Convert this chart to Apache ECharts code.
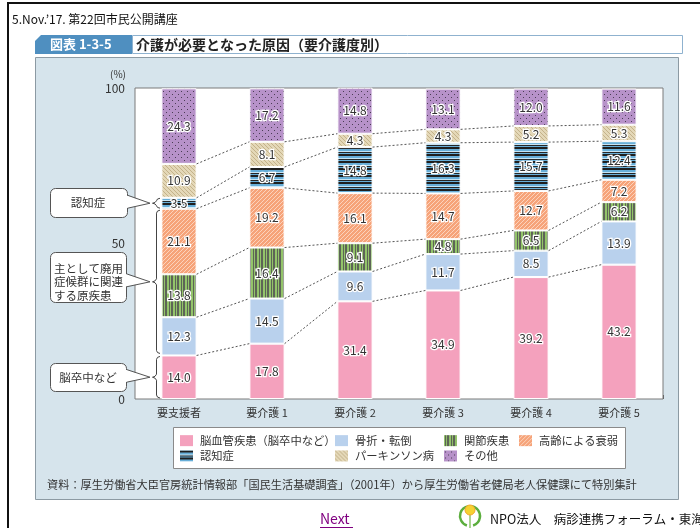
<!DOCTYPE html>
<html><head><meta charset="utf-8">
<script src="https://cdn.jsdelivr.net/npm/echarts@6/dist/echarts.min.js"></script>
<style>html,body{margin:0;padding:0;background:#fff;} #c{width:700px;height:528px;}</style>
</head><body><div id="c"></div>
<script>
const categories = ['要支援者','要介護 1','要介護 2','要介護 3','要介護 4','要介護 5'];
const seriesNames = ['脳血管疾患（脳卒中など）','骨折・転倒','関節疾患','高齢による衰弱','認知症','パーキンソン病','その他'];
const stroke    = [14.0, 17.8, 31.4, 34.9, 39.2, 43.2];
const fracture  = [12.3, 14.5,  9.6, 11.7,  8.5, 13.9];
const joint     = [13.8, 16.4,  9.1,  4.8,  6.5,  6.2];
const frailty   = [21.1, 19.2, 16.1, 14.7, 12.7,  7.2];
const dementia  = [ 3.5,  6.7, 14.8, 16.3, 15.7, 12.4];
const parkinson = [10.9,  8.1,  4.3,  4.3,  5.2,  5.3];
const other     = [24.3, 17.2, 14.8, 13.1, 12.0, 11.6];
const yTicks = [0, 50, 100];
const allSeries = [stroke, fracture, joint, frailty, dementia, parkinson, other];

const FONT = '"Noto Sans CJK JP", "Noto Sans", sans-serif';

function mk(w, h, draw) {
  const c = document.createElement('canvas'); c.width = w; c.height = h;
  const g = c.getContext('2d'); draw(g, w, h);
  return { image: c, repeat: 'repeat' };
}
const pJoint = mk(6, 4, g => { g.fillStyle = '#93c46a'; g.fillRect(0,0,6,4); g.fillStyle = '#5d6556'; g.fillRect(1,0,1,4); g.fillRect(3,0,2,4); });
const pFrail = mk(4, 4, g => { g.fillStyle = '#f6a379'; g.fillRect(0,0,4,4); g.fillStyle = '#fcd3bd'; for (let i=0;i<4;i++) g.fillRect(i,3-i,1,1); });
const pDem = mk(2, 7, g => { const cols = ['#1f1f1f','#1f1f1f','#67aed8','#67aed8','#c6e4f4','#262626','#67aed8']; cols.forEach((c,i)=>{ g.fillStyle=c; g.fillRect(0,i,2,1); }); });
const pPark = mk(4, 4, g => { g.fillStyle = '#e4d8b8'; g.fillRect(0,0,4,4); g.fillStyle = '#c4b28a'; for (let i=0;i<4;i++) g.fillRect(i,i,1,1); });
const pOther = mk(6, 6, g => { g.fillStyle = '#b792c9'; g.fillRect(0,0,6,6); g.fillStyle = '#4b3d55'; g.fillRect(1,1,1,1); g.fillRect(4,4,1,1); });
const colors = ['#f4a1bd', '#b9d1ed', pJoint, pFrail, pDem, pPark, pOther];

const barSeries = allSeries.map((d, k) => ({
  name: seriesNames[k], type: 'bar', stack: 'a', barWidth: '40%', data: d,
  itemStyle: { color: colors[k], borderColor: '#fff', borderWidth: 1 },
  label: { show: true, position: 'inside', formatter: p => p.value.toFixed(1), color: '#333', fontSize: 12, fontFamily: FONT, textBorderColor: '#fff', textBorderWidth: 2.5 },
  emphasis: { disabled: true }, silent: true
}));

const connData = [];
for (let i = 0; i < categories.length - 1; i++) {
  let cL = 0, cR = 0;
  for (let k = 0; k < allSeries.length - 1; k++) {
    cL += allSeries[k][i]; cR += allSeries[k][i+1];
    connData.push([i, cL, cR]);
  }
}

const legendCols = [
  { left: 180, data: [seriesNames[0], seriesNames[4]] },
  { left: 335, data: [seriesNames[1], seriesNames[5]] },
  { left: 444, data: [seriesNames[2], seriesNames[6]] },
  { left: 519, data: [seriesNames[3]] }
];

const chart = echarts.init(document.getElementById('c'), null, { renderer: 'canvas' });
const baseOption = {
  animation: false,
  textStyle: { fontFamily: FONT },
  grid: { left: 135, right: 37, top: 88, bottom: 129, show: true, backgroundColor: '#fff', borderColor: '#7a7a7a', borderWidth: 1, z: 2 },
  xAxis: { type: 'category', data: categories, axisLine: { show: false },
    axisTick: { show: true, inside: true, length: 4, lineStyle: { color: '#555' } },
    axisLabel: { color: '#333', fontSize: 11, margin: 8, fontFamily: FONT } },
  yAxis: { type: 'value', min: yTicks[0], max: yTicks[yTicks.length-1], interval: yTicks[1]-yTicks[0],
    axisLine: { show: false }, axisTick: { show: false }, splitLine: { show: false },
    axisLabel: { color: '#333', fontSize: 12, margin: 10, fontFamily: FONT } },
  legend: legendCols.map(c => ({ left: c.left, top: 435, padding: 0, orient: 'vertical', itemWidth: 13, itemHeight: 11, itemGap: 4,
    icon: 'rect', data: c.data, selectedMode: false, itemStyle: { borderWidth: 0 },
    textStyle: { fontSize: 11.3, color: '#333', fontFamily: FONT, padding: [0,0,0,2] }, z: 20 })),
  series: barSeries.concat([{
    type: 'custom', silent: true, data: connData, encode: { x: 0, y: 1 }, z: 3,
    renderItem: (params, api) => {
      const i = api.value(0);
      const p1 = api.coord([i, api.value(1)]);
      const p2 = api.coord([i + 1, api.value(2)]);
      const hw = api.size([1, 0])[0] * 0.4 / 2;
      return { type: 'line', shape: { x1: p1[0] + hw, y1: p1[1], x2: p2[0] - hw, y2: p2[1] },
        style: { stroke: '#555', lineWidth: 1, lineDash: [2, 2] } };
    }
  }])
};
chart.setOption(baseOption);

function yOf(v) { return chart.convertToPixel({ gridIndex: 0 }, [0, v])[1]; }
function cum(n) { let s = 0; for (let k = 0; k < n; k++) s += allSeries[k][0]; return s; }

function callout(x0, y0, x1, y1, tipX, tipY) {
  const b1 = Math.max(y0 + 6, tipY - 8), b2 = Math.min(y1 - 6, tipY + 5);
  return [
    { type: 'rect', shape: { x: x0, y: y0, width: x1 - x0, height: y1 - y0, r: 5 }, style: { fill: '#fff', stroke: '#555', lineWidth: 1 }, z: 10 },
    { type: 'polygon', shape: { points: [[x1 - 1.5, b1], [tipX, tipY], [x1 - 1.5, b2]] }, style: { fill: '#fff' }, z: 10 },
    { type: 'polyline', shape: { points: [[x1, b1], [tipX, tipY], [x1, b2]] }, style: { stroke: '#555', lineWidth: 1, fill: null }, z: 10 },
    { type: 'line', shape: { x1: x1, y1: b1 + 0.8, x2: x1, y2: b2 - 0.8 }, style: { stroke: '#fff', lineWidth: 1.5 }, z: 10 }
  ];
}
function bracket(yTop, yBot) {
  const x = 156.5, mid = (yTop + yBot) / 2, h = Math.min(3, (yBot - yTop) / 4);
  return { type: 'polyline', shape: { points: [[160, yTop], [157.5, yTop + h * 0.3], [x, yTop + h], [x, mid - h], [155, mid - h * 0.3], [152.5, mid], [155, mid + h * 0.3], [x, mid + h], [x, yBot - h], [157.5, yBot - h * 0.3], [160, yBot]] },
    style: { stroke: '#444', lineWidth: 1, fill: null }, z: 10 };
}

const yStroke = yOf(cum(1)), yFr = yOf(cum(4)), yDem = yOf(cum(5)), y0 = yOf(0);
const bStroke = [yStroke + 1, y0 - 1];
const bMid = [yFr + 1.5, yStroke - 2];
const bDem = [yDem + 0.5, yFr - 0.5];
const tip = (b) => (b[0] + b[1]) / 2;

const graphic = [
  { type: 'line', shape: { x1: 7, y1: 3, x2: 700, y2: 3 }, style: { stroke: '#111', lineWidth: 2 }, z: -10 },
  { type: 'line', shape: { x1: 8, y1: 2, x2: 8, y2: 528 }, style: { stroke: '#111', lineWidth: 2 }, z: -10 },
  { type: 'text', x: 12, y: 19, style: { text: '5.Nov.’17. 第22回市民公開講座', fill: '#111', font: '12px ' + FONT, verticalAlign: 'middle' }, z: -5 },
  { type: 'rect', shape: { x: 35.5, y: 57.5, width: 643, height: 442 }, style: { fill: '#d6e4ec', stroke: '#8c9aa3', lineWidth: 1 }, z: -9 },
  { type: 'rect', shape: { x: 132.5, y: 35.5, width: 550, height: 18 }, style: { fill: '#fff', stroke: '#8fb2cf', lineWidth: 1 }, z: -8 },
  { type: 'polygon', shape: { points: [[35, 41], [41, 35], [132, 35], [132, 54], [35, 54]] }, style: { fill: '#4f8fc0' }, z: -8 },
  { type: 'text', x: 50, y: 44.5, style: { text: '図表 1-3-5', fill: '#fff', font: 'bold 13px ' + FONT, verticalAlign: 'middle' }, z: -7 },
  { type: 'text', x: 136, y: 44.5, style: { text: '介護が必要となった原因（要介護度別）', fill: '#222', font: 'bold 14px ' + FONT, verticalAlign: 'middle' }, z: -7 },
  { type: 'text', x: 118, y: 74, style: { text: '(%)', fill: '#333', font: '10px ' + FONT, align: 'center', verticalAlign: 'middle' }, z: 10 },
  { type: 'rect', shape: { x: 173.5, y: 427.5, width: 452, height: 41 }, style: { fill: '#fff', stroke: '#8a8a8a', lineWidth: 1 }, z: 1 },
  { type: 'text', x: 47, y: 485, style: { text: '資料：厚生労働省大臣官房統計情報部「国民生活基礎調査」（2001年）から厚生労働省老健局老人保健課にて特別集計', fill: '#333', font: '11.2px ' + FONT, verticalAlign: 'middle' }, z: 1 },
  { type: 'text', x: 320, y: 519, style: { text: 'Next', fill: '#800080', font: '14px ' + FONT, verticalAlign: 'middle' }, z: 1 },
  { type: 'line', shape: { x1: 320, y1: 527.5, x2: 353, y2: 527.5 }, style: { stroke: '#800080', lineWidth: 1 }, z: 1 },
  { type: 'arc', shape: { cx: 470, cy: 516, r: 10, startAngle: Math.PI * 0.6, endAngle: Math.PI * 1.45 }, style: { stroke: '#5cae3e', lineWidth: 2.5, fill: null }, z: 1 },
  { type: 'arc', shape: { cx: 470, cy: 516, r: 10, startAngle: -Math.PI * 0.45, endAngle: Math.PI * 0.4 }, style: { stroke: '#5cae3e', lineWidth: 2.5, fill: null }, z: 1 },
  { type: 'line', shape: { x1: 470, y1: 513, x2: 470, y2: 528 }, style: { stroke: '#8cc46a', lineWidth: 1.5 }, z: 1 },
  { type: 'circle', shape: { cx: 470, cy: 510, r: 5 }, style: { fill: '#f5d232', stroke: '#f2a52a', lineWidth: 1 }, z: 1 },
  { type: 'text', x: 490, y: 519, style: { text: 'NPO法人　病診連携フォーラム・東海', fill: '#111', font: '12.5px ' + FONT, verticalAlign: 'middle' }, z: 1 },
  ...callout(50.5, 188.5, 127.5, 217.5, 150, tip(bDem)),
  { type: 'text', x: 88, y: 203, style: { text: '認知症', fill: '#333', font: '11.5px ' + FONT, align: 'center', verticalAlign: 'middle' }, z: 11 },
  ...callout(50.5, 252.5, 126.5, 302.5, 150, tip(bMid)),
  { type: 'text', x: 54, y: 262, style: { text: '主として廃用\n症候群に関連\nする原疾患', fill: '#333', font: '11.5px ' + FONT, lineHeight: 13.3, verticalAlign: 'top' }, z: 11 },
  ...callout(50.5, 363.5, 126.5, 391.5, 150, tip(bStroke)),
  { type: 'text', x: 88, y: 377.5, style: { text: '脳卒中など', fill: '#333', font: '11.5px ' + FONT, align: 'center', verticalAlign: 'middle' }, z: 11 },
  bracket(bDem[0], bDem[1]),
  bracket(bMid[0], bMid[1]),
  bracket(bStroke[0], bStroke[1])
];
chart.setOption({ graphic: graphic });
</script>
</body></html>
